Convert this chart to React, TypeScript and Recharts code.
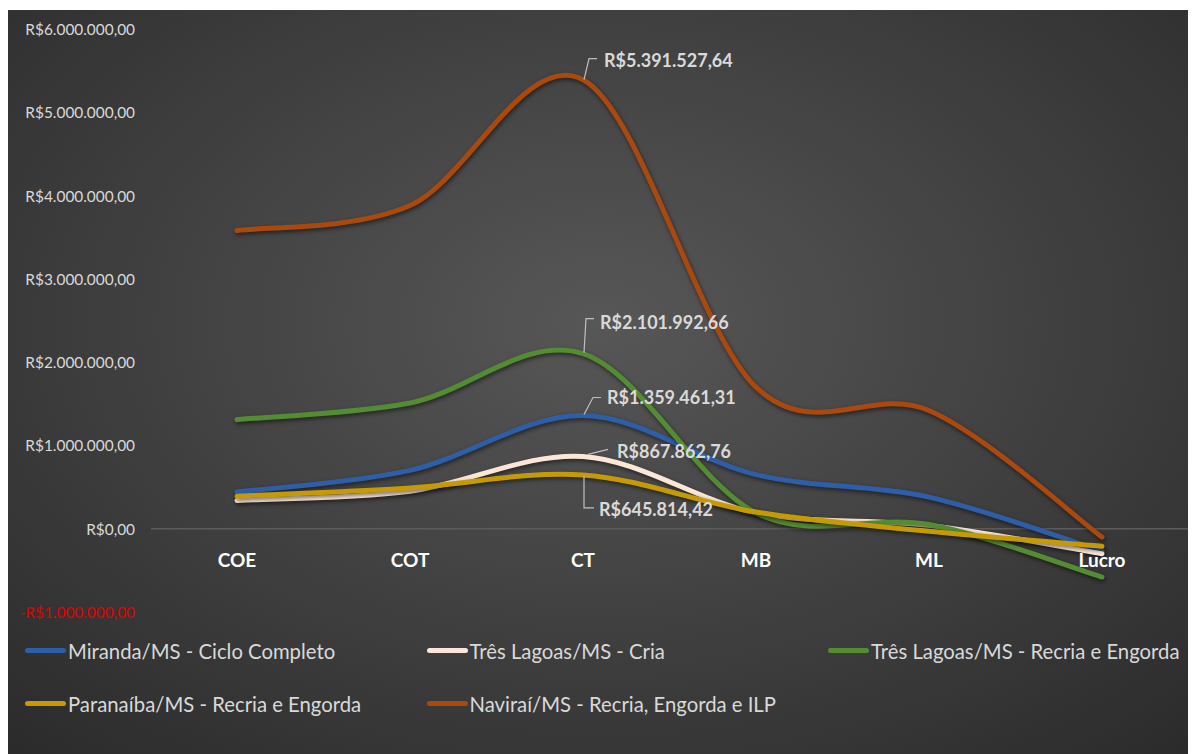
import React from 'react';
import { LineChart, Line, XAxis, YAxis, ReferenceLine } from 'recharts';

const categories = ['COE', 'COT', 'CT', 'MB', 'ML', 'Lucro'];

const miranda = [440000, 700000, 1359461.31, 650000, 380000, -270000];
const tresLagoasCria = [340000, 450000, 867862.76, 190000, 40000, -300000];
const tresLagoasRecria = [1310000, 1510000, 2101992.66, 190000, 50000, -580000];
const paranaiba = [390000, 490000, 645814.42, 200000, -30000, -210000];
const navirai = [3580000, 3880000, 5391527.64, 1700000, 1420000, -100000];

const yTicks = [-1000000, 0, 1000000, 2000000, 3000000, 4000000, 5000000, 6000000];

const series = [
  { key: 'miranda', name: 'Miranda/MS - Ciclo Completo', color: '#2f5ea8', values: miranda },
  { key: 'tlCria', name: 'Três Lagoas/MS - Cria', color: '#fbe6d8', values: tresLagoasCria },
  { key: 'tlRecria', name: 'Três Lagoas/MS - Recria e Engorda', color: '#548c33', values: tresLagoasRecria },
  { key: 'paranaiba', name: 'Paranaíba/MS - Recria e Engorda', color: '#c59a06', values: paranaiba },
  { key: 'navirai', name: 'Naviraí/MS - Recria, Engorda e ILP', color: '#a9490f', values: navirai },
];

// leader line + text offsets for the CT labels
const labelOffsets: Record<string, { pts: number[][]; dx: number; dy: number }> = {
  navirai: { pts: [[1, 0], [6, -21], [14, -21]], dx: 21, dy: -20 },
  tlRecria: { pts: [[1, -1], [3, -35], [11, -35]], dx: 17, dy: -32 },
  miranda: { pts: [[1, -1], [10, -18], [18, -18]], dx: 24, dy: -18 },
  tlCria: { pts: [[5, -2], [25, -7]], dx: 34, dy: -5 },
  paranaiba: { pts: [[1, 1], [1, 33], [11, 33]], dx: 16, dy: 34 },
};

const data = categories.map((c, i) => {
  const row: Record<string, any> = { name: c };
  series.forEach((s) => (row[s.key] = s.values[i]));
  return row;
});

const brl = (v: number) => {
  const neg = v < 0;
  const [int, dec] = Math.abs(v).toFixed(2).split('.');
  return (neg ? '-' : '') + 'R$' + int.replace(/\B(?=(\d{3})+(?!\d))/g, '.') + ',' + dec;
};

// Excel-style smoothed line (Catmull-Rom through the points)
const excelSmooth = (context: any) => {
  let xs: number[] = [];
  let ys: number[] = [];
  return {
    areaStart() {},
    areaEnd() {},
    lineStart() {
      xs = [];
      ys = [];
    },
    point(x: number, y: number) {
      xs.push(+x);
      ys.push(+y);
    },
    lineEnd() {
      const n = xs.length;
      if (!n) return;
      context.moveTo(xs[0], ys[0]);
      for (let i = 0; i < n - 1; i++) {
        const a = Math.max(i - 1, 0);
        const b = Math.min(i + 2, n - 1);
        context.bezierCurveTo(
          xs[i] + (xs[i + 1] - xs[a]) / 6,
          ys[i] + (ys[i + 1] - ys[a]) / 6,
          xs[i + 1] - (xs[b] - xs[i]) / 6,
          ys[i + 1] - (ys[b] - ys[i]) / 6,
          xs[i + 1],
          ys[i + 1]
        );
      }
    },
  };
};

const FONT = 'Lato, "Open Sans", sans-serif';

const makeLabel = (key: string) => (props: any) => {
  const { x, y, value, index } = props;
  if (index !== 2) return null;
  const o = labelOffsets[key];
  const d = o.pts.map((p, i) => `${i ? 'L' : 'M'}${x + p[0]},${y + p[1]}`).join(' ');
  return (
    <g>
      <path d={d} stroke="#bfbfbf" strokeWidth={1.2} fill="none" />
      <text x={x + o.dx} y={y + o.dy} dominantBaseline="central" fill="#d9d9d9" fontSize={18} fontWeight={700} fontFamily={FONT}>
        {brl(value)}
      </text>
    </g>
  );
};

const YTick = (props: any) => {
  const { x, y, payload } = props;
  return (
    <text x={x} y={y} textAnchor="end" dominantBaseline="central" fontSize={15.4} fontFamily={FONT} fill={payload.value < 0 ? '#e00000' : '#d9d9d9'}>
      {brl(payload.value)}
    </text>
  );
};

const XTick = (props: any) => {
  const { x, y, payload } = props;
  return (
    <text x={x} y={y - 53} textAnchor="middle" dominantBaseline="central" fontSize={19} fontWeight={700} fontFamily={FONT} fill="#ffffff">
      {payload.value}
    </text>
  );
};

export default function App() {
  return (
    <div
      style={{
        position: 'relative',
        overflow: 'hidden',
        marginLeft: -2,
        marginTop: 2,
        width: 1190,
        height: 744,
        background: 'radial-gradient(ellipse 75% 80% at 50% 42%, #575757 0%, #454545 40%, #2a2a2a 100%)',
        fontFamily: FONT,
      }}
    >
      <style>{`.recharts-line-curve { filter: drop-shadow(1px 2px 2px rgba(0,0,0,0.55)); }`}</style>
      <LineChart width={1190} height={744} data={data} margin={{ top: 19, right: 8, bottom: 112, left: 0 }}>
        <XAxis
          dataKey="name"
          height={30}
          axisLine={false}
          tickLine={false}
          tickSize={0}
          tickMargin={0}
          padding={{ left: 86, right: 86 }}
          tick={<XTick />}
          interval={0}
        />
        <YAxis
          width={145}
          domain={[-1000000, 6000000]}
          ticks={yTicks}
          axisLine={false}
          tickLine={false}
          tickSize={0}
          tickMargin={16}
          tick={<YTick />}
          interval={0}
        />
        <ReferenceLine y={0} stroke="#5c5c5c" strokeWidth={1.5} />
        {series.map((s) => (
          <Line
            key={s.key}
            dataKey={s.key}
            name={s.name}
            type={excelSmooth as any}
            stroke={s.color}
            strokeWidth={5}
            strokeLinecap="round"
            dot={false}
            activeDot={false}
            isAnimationActive={false}
            label={makeLabel(s.key)}
          />
        ))}
      </LineChart>
      <div style={{ position: 'absolute', left: 19, top: 614, width: 1220, display: 'flex', flexWrap: 'wrap' }}>
        {series.map((s) => (
          <div key={s.key} style={{ width: 401.5, height: 53, display: 'flex', alignItems: 'center' }}>
            <span style={{ display: 'inline-block', flex: 'none', width: 41, height: 5, borderRadius: 3, background: s.color, marginRight: 2 }} />
            <span style={{ color: '#d9d9d9', fontSize: 20.3, whiteSpace: 'nowrap' }}>{s.name}</span>
          </div>
        ))}
      </div>
    </div>
  );
}
